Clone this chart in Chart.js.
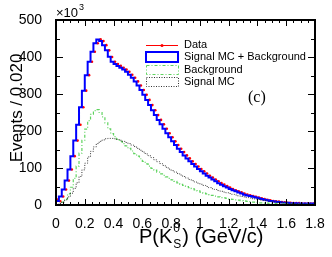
<!DOCTYPE html>
<html lang="en">
<head>
    <meta charset="UTF-8">
    <title>P(Ks) spectrum</title>
    <script src="https://cdn.jsdelivr.net/npm/chart.js"></script>
    <style>
        body { margin: 0; background: #fff; }
        #wrap { width: 332px; height: 257px; }
    </style>
</head>
<body>
    <div id="wrap"><canvas id="pks" width="332" height="257"></canvas></div>

    <script>
        // bins of 0.020 GeV/c from 0 to 1.8, values in units of 10^3 events
        const binWidth = 0.02;
        const xTickValues = [0, 0.2, 0.4, 0.6, 0.8, 1, 1.2, 1.4, 1.6, 1.8];
        const yTickValues = [0, 100, 200, 300, 400, 500];

        const dataCounts = [
            15, 10, 23, 42, 66, 96, 132, 174, 217, 264,
            309, 351, 387, 414, 437, 448, 443, 432, 418, 400,
            387, 381, 376, 371, 366, 360, 352, 344, 334, 323,
            311, 298, 284, 270, 256, 243, 230, 218, 206, 194,
            183, 172, 162, 152, 143, 134, 126, 118, 111, 104,
            97, 91, 85, 79, 74, 69, 64, 59, 55, 51,
            47, 43, 40, 37, 34, 31, 28, 26, 24, 22,
            20, 18, 16, 14, 13, 11, 10, 9, 8, 7,
            6, 6, 5, 5, 5, 4, 4, 4, 4, 4
        ];
        const totalMC = [
            14, 11, 23, 42, 66, 96, 132, 174, 217, 264,
            309, 351, 387, 414, 437, 447, 443, 432, 418, 401,
            387, 381, 376, 371, 366, 360, 352, 344, 334, 323,
            311, 298, 284, 270, 256, 243, 230, 218, 206, 194,
            183, 172, 162, 152, 143, 134, 126, 118, 111, 104,
            97, 91, 85, 79, 74, 69, 64, 59, 55, 51,
            47, 43, 40, 37, 34, 31, 28, 26, 24, 22,
            20, 18, 16, 14, 13, 11, 10, 9, 8, 7,
            6, 6, 5, 5, 5, 4, 4, 4, 4, 4
        ];
        const background = [
            0, 1, 3, 8, 16, 30, 48, 72, 105, 140,
            175, 205, 228, 245, 255, 258, 250, 238, 222, 206,
            193, 185, 178, 172, 166, 160, 153, 146, 139, 132,
            125, 118, 111, 105, 99, 94, 89, 84, 80, 76,
            72, 68, 64, 60, 56, 53, 50, 47, 44, 41,
            38, 35, 32, 30, 28, 26, 24, 22, 20, 19,
            18, 16, 15, 14, 13, 12, 11, 10, 9, 8,
            7, 6, 6, 5, 5, 4, 4, 4, 3, 3,
            3, 3, 2, 2, 2, 2, 2, 2, 2, 2
        ];
        const signalMC = [
            1, 2, 4, 8, 14, 22, 32, 45, 60, 77,
            95, 113, 130, 145, 157, 166, 172, 176, 179, 180,
            180, 179, 177, 175, 172, 169, 166, 162, 158, 153,
            148, 143, 138, 133, 128, 122, 117, 112, 107, 102,
            97, 93, 89, 85, 81, 77, 73, 69, 66, 62,
            59, 56, 53, 50, 47, 44, 42, 39, 37, 35,
            33, 31, 29, 27, 25, 23, 22, 20, 19, 17,
            16, 15, 13, 12, 11, 10, 9, 8, 7, 7,
            6, 5, 5, 4, 4, 3, 3, 3, 2, 2
        ];

        // step histogram: one point per low edge plus the closing edge
        function histPoints(vals) {
            const pts = vals.map((v, i) => ({ x: i * binWidth, y: v }));
            pts.push({ x: vals.length * binWidth, y: vals[vals.length - 1] });
            return pts;
        }
        function centerPoints(vals) {
            return vals.map((v, i) => ({ x: (i + 0.5) * binWidth, y: v }));
        }

        const green = '#5fd35f';
        const grey = '#333333';
        const sans = '"Liberation Sans", Arial, sans-serif';

        // frame, ROOT-like inner ticks, axis titles, legend
        const decor = {
            id: 'decor',
            afterDraw(chart) {
                const ctx = chart.ctx;
                const a = chart.chartArea;
                const xs = chart.scales.x, ys = chart.scales.y;
                ctx.save();
                ctx.strokeStyle = '#000';
                ctx.lineWidth = 1;
                // x ticks
                for (let k = 0; k <= 36; k++) {
                    const px = Math.round(xs.getPixelForValue(k * 0.05)) + 0.5;
                    const len = k % 4 === 0 ? 6 : 3;
                    ctx.beginPath();
                    ctx.moveTo(px, a.bottom); ctx.lineTo(px, a.bottom - len);
                    ctx.moveTo(px, a.top); ctx.lineTo(px, a.top + len);
                    ctx.stroke();
                }
                // y ticks
                for (let k = 0; k <= 10; k++) {
                    const py = Math.round(ys.getPixelForValue(k * 50)) + 0.5;
                    const len = k % 2 === 0 ? 7 : 4;
                    ctx.beginPath();
                    ctx.moveTo(a.left, py); ctx.lineTo(a.left + len, py);
                    ctx.moveTo(a.right, py); ctx.lineTo(a.right - len, py);
                    ctx.stroke();
                }
                ctx.lineWidth = 2;
                ctx.strokeRect(a.left, a.top, a.right - a.left, a.bottom - a.top);

                ctx.fillStyle = '#000';
                // multiplier
                ctx.font = '13px ' + sans;
                ctx.textBaseline = 'alphabetic';
                ctx.textAlign = 'left';
                ctx.fillText('\u00d710', 56, 17);
                ctx.font = '9px ' + sans;
                ctx.fillText('3', 79, 10);

                // y title
                ctx.save();
                ctx.translate(22, 108);
                ctx.rotate(-Math.PI / 2);
                ctx.textAlign = 'center';
                ctx.font = '17px ' + sans;
                ctx.fillText('Events / 0.020', 0, 0);
                ctx.restore();

                // x title  P(K_S^0) (GeV/c)
                let x = 139;
                const base = 243;
                ctx.textAlign = 'left';
                ctx.font = '20px ' + sans;
                ctx.fillText('P(K', x, base);
                x += ctx.measureText('P(K').width;
                ctx.font = '12px ' + sans;
                ctx.fillText('S', x + 1, base + 5);
                ctx.fillText('0', x + 1, base - 11);
                x += ctx.measureText('S').width + 2;
                ctx.font = '20px ' + sans;
                ctx.fillText(') (GeV/c)', x, base);

                // legend
                ctx.font = '11px ' + sans;
                ctx.textBaseline = 'middle';
                const lx = 146, lw = 32, tx = 184;
                const rows = [45, 57, 70, 82];
                // Data
                ctx.strokeStyle = 'red'; ctx.lineWidth = 1;
                ctx.beginPath(); ctx.moveTo(lx, rows[0] + 0.5); ctx.lineTo(lx + lw, rows[0] + 0.5); ctx.stroke();
                ctx.fillStyle = 'red';
                ctx.beginPath(); ctx.arc(lx + lw / 2, rows[0] + 0.5, 1.5, 0, Math.PI * 2); ctx.fill();
                // Signal MC + Background
                ctx.strokeStyle = '#0000ff'; ctx.lineWidth = 2;
                ctx.strokeRect(lx, rows[1] - 5, lw, 10);
                // Background
                ctx.strokeStyle = green; ctx.lineWidth = 1;
                ctx.setLineDash([3, 2, 1, 2]);
                ctx.strokeRect(lx + 0.5, rows[2] - 4.5, lw, 9);
                // Signal MC
                ctx.strokeStyle = grey;
                ctx.setLineDash([1, 1.5]);
                ctx.strokeRect(lx + 0.5, rows[3] - 4.5, lw, 9);
                ctx.setLineDash([]);
                ctx.fillStyle = '#000';
                ctx.fillText('Data', tx, rows[0]);
                ctx.fillText('Signal MC + Background', tx, rows[1]);
                ctx.fillText('Background', tx, rows[2]);
                ctx.fillText('Signal MC', tx, rows[3]);

                ctx.font = '16px "Liberation Serif", "Times New Roman", serif';
                ctx.fillText('(c)', 248, 98);
                ctx.restore();
            }
        };

        const ctx = document.getElementById('pks').getContext('2d');
        new Chart(ctx, {
            type: 'line',
            data: {
                datasets: [
                    {
                        label: 'Signal MC',
                        data: histPoints(signalMC),
                        stepped: 'after',
                        borderColor: grey,
                        borderWidth: 1,
                        borderDash: [1, 1.5],
                        pointRadius: 0,
                        fill: false
                    },
                    {
                        label: 'Background',
                        data: histPoints(background),
                        stepped: 'after',
                        borderColor: green,
                        borderWidth: 1.2,
                        borderDash: [3, 2, 1, 2],
                        pointRadius: 0,
                        fill: false
                    },
                    {
                        label: 'Signal MC + Background',
                        data: histPoints(totalMC),
                        stepped: 'after',
                        borderColor: '#0000ff',
                        borderWidth: 2,
                        pointRadius: 0,
                        fill: false
                    },
                    {
                        label: 'Data',
                        data: centerPoints(dataCounts),
                        showLine: false,
                        pointStyle: 'circle',
                        pointRadius: 1.3,
                        pointBorderWidth: 0,
                        pointBackgroundColor: 'red',
                        borderColor: 'red'
                    }
                ]
            },
            options: {
                responsive: false,
                animation: false,
                layout: { padding: { top: 20, right: 17, left: 0, bottom: 0 } },
                plugins: { legend: { display: false }, tooltip: { enabled: false } },
                scales: {
                    x: {
                        type: 'linear',
                        min: 0, max: 1.8,
                        grid: { display: false },
                        border: { display: false },
                        afterFit: s => { s.height = 52; },
                        afterBuildTicks: s => { s.ticks = xTickValues.map(v => ({ value: v })); },
                        ticks: {
                            padding: 3,
                            maxRotation: 0,
                            autoSkip: false,
                            color: '#000',
                            font: { family: sans, size: 14 },
                            callback: v => String(Math.round(v * 10) / 10)
                        }
                    },
                    y: {
                        min: 0, max: 500,
                        grid: { display: false },
                        border: { display: false },
                        afterFit: s => { s.width = 56; },
                        afterBuildTicks: s => { s.ticks = yTickValues.map(v => ({ value: v })); },
                        ticks: {
                            padding: 6,
                            color: '#000',
                            font: { family: sans, size: 14 }
                        }
                    }
                }
            },
            plugins: [decor]
        });
    </script>
</body>
</html>
